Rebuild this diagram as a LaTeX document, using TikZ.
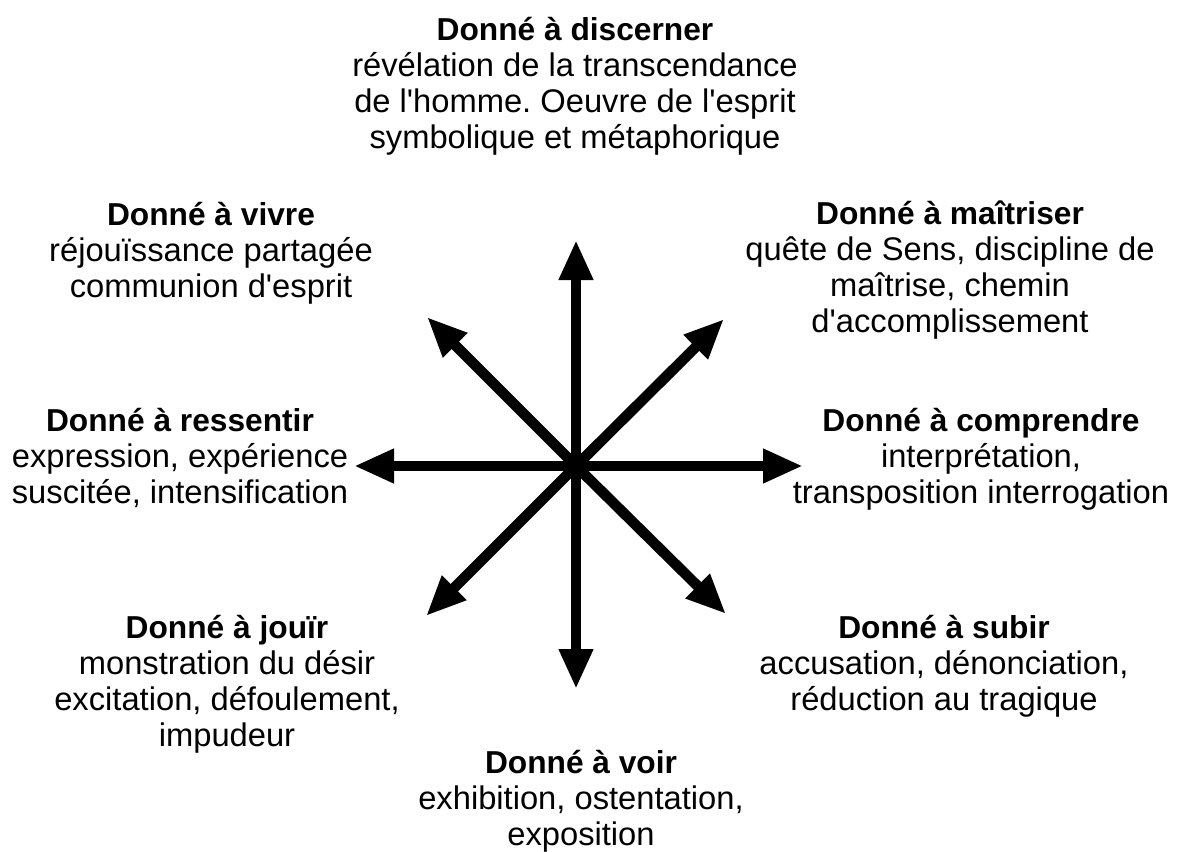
\documentclass[tikz,border=0pt]{standalone}
\usepackage{fontspec}
\setmainfont{Liberation Sans}[Ligatures=TeXOff]
\usetikzlibrary{arrows.meta}
\newcommand{\titre}[1]{{\fontsize{31.7}{36}\selectfont\bfseries #1}}
\frenchspacing

\begin{document}
\begin{tikzpicture}[x=1pt, y=-1pt,
  bloc/.style={align=center, inner sep=0pt, anchor=base, font=\fontsize{32.7}{36}\selectfont},
  ray/.style={line width=10.5pt, -{Triangle[length=40pt, width=32pt]}}]
  \useasboundingbox (0,0) rectangle (1182,851);

  % the eight ideas (placed at the baseline of their last line)
  \node[bloc] (discerner) at (575,148) {\titre{Donné à discerner}\\révélation de la transcendance\\de l'homme. Oeuvre de l'esprit\\symbolique et métaphorique};
  \node[bloc] (vivre) at (211,297) {\titre{Donné à vivre}\\réjouïssance partagée\\communion d'esprit};
  \node[bloc] (maitriser) at (950,332) {\titre{Donné à maîtriser}\\quête de Sens, discipline de\\maîtrise, chemin\\d'accomplissement};
  \node[bloc] (ressentir) at (180,503) {\titre{Donné à ressentir}\\expression, expérience\\suscitée, intensification};
  \node[bloc] (comprendre) at (981,503) {\titre{Donné à comprendre}\\interprétation,\\transposition interrogation};
  \node[bloc] (jouir) at (227,746) {\titre{Donné à jouïr}\\monstration du désir\\excitation, défoulement,\\impudeur};
  \node[bloc] (subir) at (944,710) {\titre{Donné à subir}\\accusation, dénonciation,\\réduction au tragique};
  \node[bloc] (voir) at (581,845) {\titre{Donné à voir}\\exhibition, ostentation,\\exposition};

  % the star
  \coordinate (centre) at (576,466);
  \coordinate (n) at (576,240);
  \coordinate (s) at (576,689);
  \coordinate (w) at (354,466);
  \coordinate (e) at (803,466);
  \coordinate (nw) at (427,317);
  \coordinate (ne) at (724,319);
  \coordinate (sw) at (426,616);
  \coordinate (se) at (726,614);
  \foreach \tip in {n, s, w, e, nw, ne, sw, se}
    \draw[ray] (centre) -- (\tip);
\end{tikzpicture}
\end{document}
